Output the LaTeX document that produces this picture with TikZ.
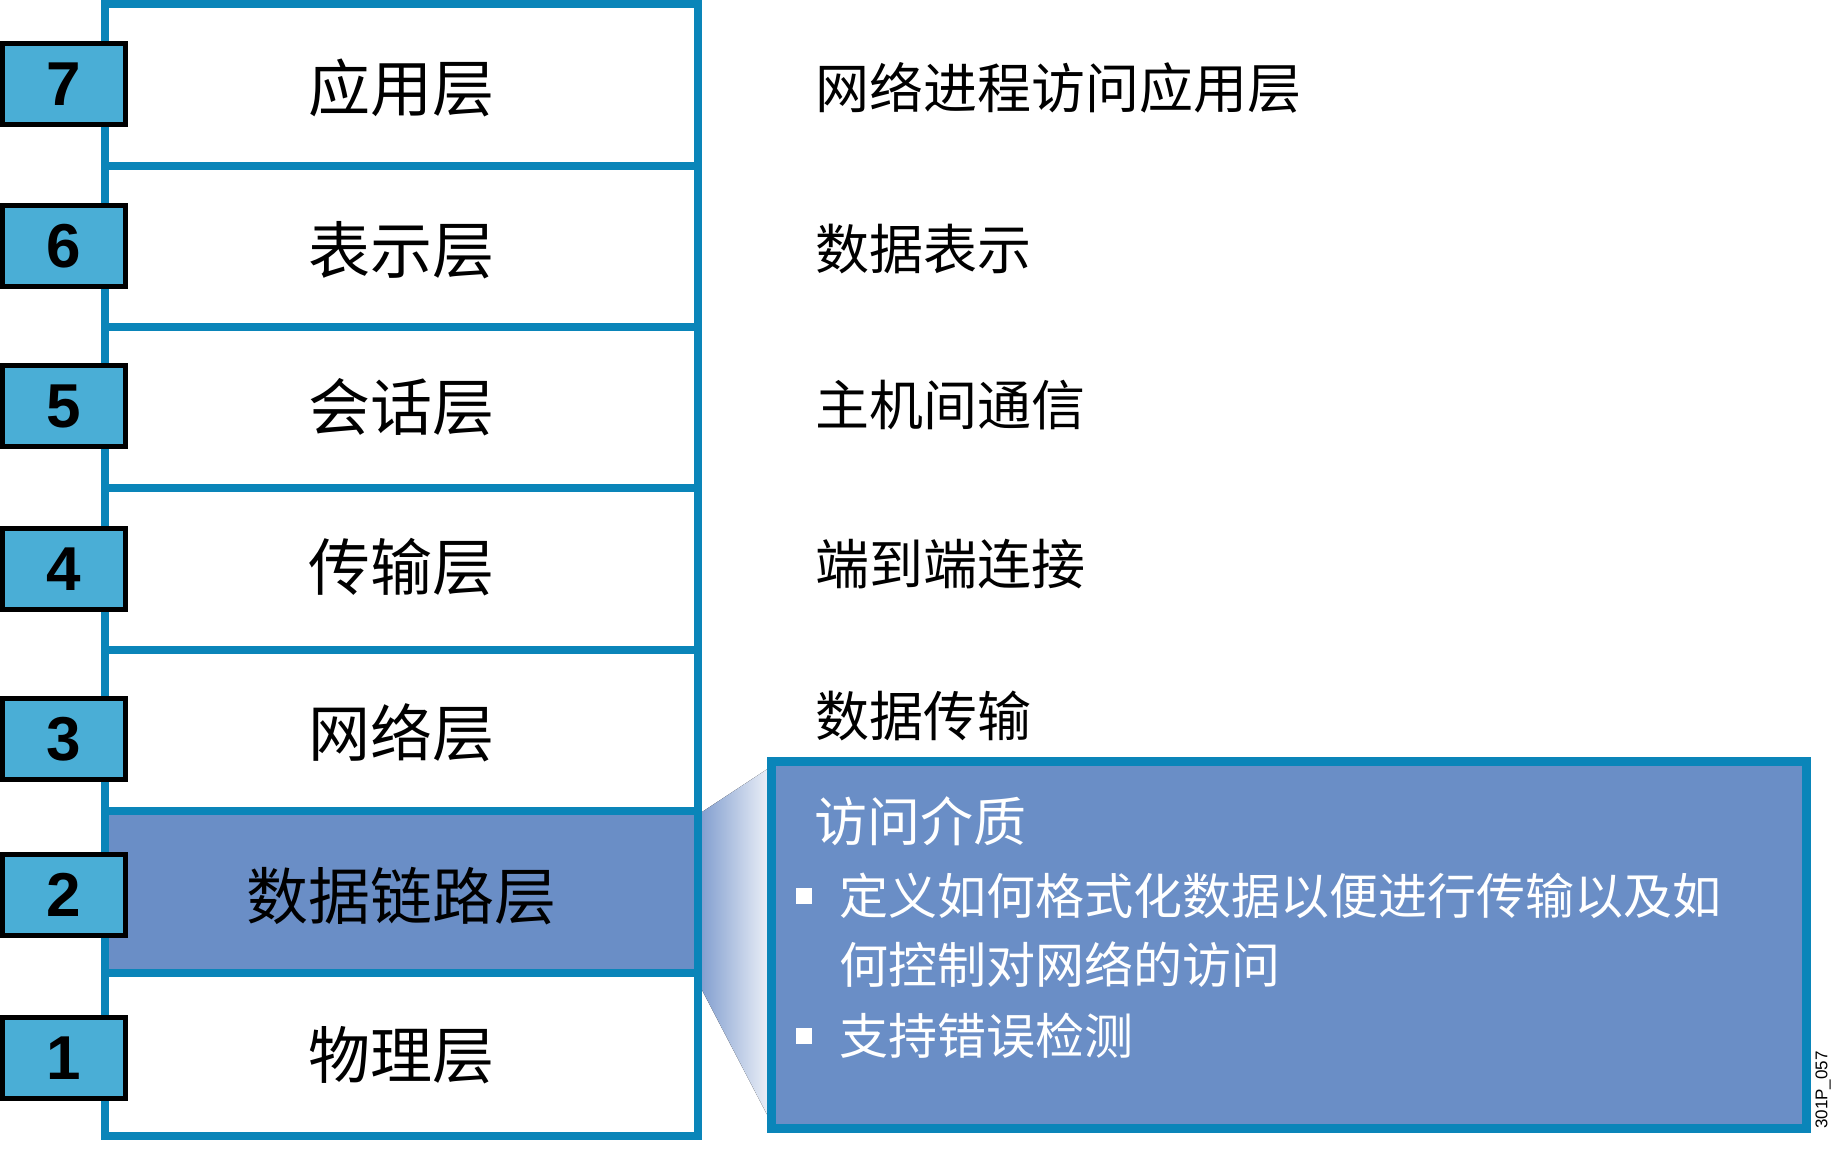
\documentclass[tikz,border=0pt]{standalone}
\usepackage{fontspec}
\newfontfamily\cjk{Noto Sans CJK SC}
\newfontfamily\numfont{Liberation Sans}
\definecolor{frameblue}{RGB}{10,133,185}
\definecolor{numfill}{RGB}{74,174,214}
\definecolor{hlfill}{RGB}{106,142,198}
\definecolor{gradL}{RGB}{132,160,208}
\definecolor{gradR}{RGB}{240,243,249}
\begin{document}
\begin{tikzpicture}[x=1pt,y=-1pt,
  layerbox/.style={draw=frameblue,line width=8pt,minimum width=592.5pt,inner sep=0pt},
  numbox/.style={draw=black,line width=5pt,fill=numfill,minimum width=123pt,minimum height=81pt,inner sep=0pt,
     font=\numfont\bfseries\fontsize{62}{62}\selectfont},
  layertext/.style={font=\cjk\fontsize{62}{62}\selectfont,inner sep=0pt},
  desctext/.style={font=\cjk\fontsize{54}{54}\selectfont,inner sep=0pt,anchor=west},
  calltext/.style={font=\cjk\fontsize{49}{49}\selectfont,inner sep=0pt,anchor=west,text=white},
  bulletsq/.style={fill=white,minimum size=16pt,inner sep=0pt}]
\useasboundingbox (0,0) rectangle (1831,1155);
% gradient callout wedge
\coordinate (g1) at (702,812);
\coordinate (g2) at (772,766);
\coordinate (g3) at (772,1124);
\coordinate (g4) at (702,990);
\fill[left color=gradL,right color=gradR] (g1) -- (g2) -- (g3) -- (g4) -- cycle;
% layers
\node[layerbox,minimum height=162pt] (L7) at (401.25,85) {};
\node[layerbox,minimum height=161pt] (L6) at (401.25,246.5) {};
\node[layerbox,minimum height=161pt] (L5) at (401.25,407.5) {};
\node[layerbox,minimum height=162pt] (L4) at (401.25,569) {};
\node[layerbox,minimum height=161pt] (L3) at (401.25,730.5) {};
\node[layerbox,minimum height=162pt,fill=hlfill] (L2) at (401.25,892) {};
\node[layerbox,minimum height=163pt] (L1) at (401.25,1054.5) {};
\node[layertext] (t7) at (401,88) {应用层};
\node[layertext] (t6) at (401,250) {表示层};
\node[layertext] (t5) at (401,407) {会话层};
\node[layertext] (t4) at (401,567) {传输层};
\node[layertext] (t3) at (401,733) {网络层};
\node[layertext] (t2) at (401,896) {数据链路层};
\node[layertext] (t1) at (401,1055) {物理层};
% number boxes
\node[numbox] (n7) at (64,84) {7};
\node[numbox] (n6) at (64,246) {6};
\node[numbox] (n5) at (64,406) {5};
\node[numbox] (n4) at (64,569) {4};
\node[numbox] (n3) at (64,739) {3};
\node[numbox] (n2) at (64,895) {2};
\node[numbox] (n1) at (64,1058) {1};
% descriptions
\node[desctext] (d7) at (815,88) {网络进程访问应用层};
\node[desctext] (d6) at (815,249) {数据表示};
\node[desctext] (d5) at (815,405) {主机间通信};
\node[desctext] (d4) at (815,564) {端到端连接};
\node[desctext] (d3) at (815,716) {数据传输};
% callout box
\node[draw=frameblue,line width=9pt,fill=hlfill,minimum width=1035pt,minimum height=367pt,inner sep=0pt] (callout) at (1289,945) {};
\node[calltext,font=\cjk\fontsize{53}{53}\selectfont] (ctitle) at (814,821) {访问介质};
\node[bulletsq] (b1) at (804,896) {};
\node[calltext] (c1a) at (839,896) {定义如何格式化数据以便进行传输以及如};
\node[calltext] (c1b) at (839,965) {何控制对网络的访问};
\node[bulletsq] (b2) at (804,1036) {};
\node[calltext] (c2) at (839,1036) {支持错误检测};
\node[rotate=90,font=\numfont\fontsize{17}{17}\selectfont,inner sep=0pt] (code) at (1823,1090) {301P\_057};
\end{tikzpicture}
\end{document}
